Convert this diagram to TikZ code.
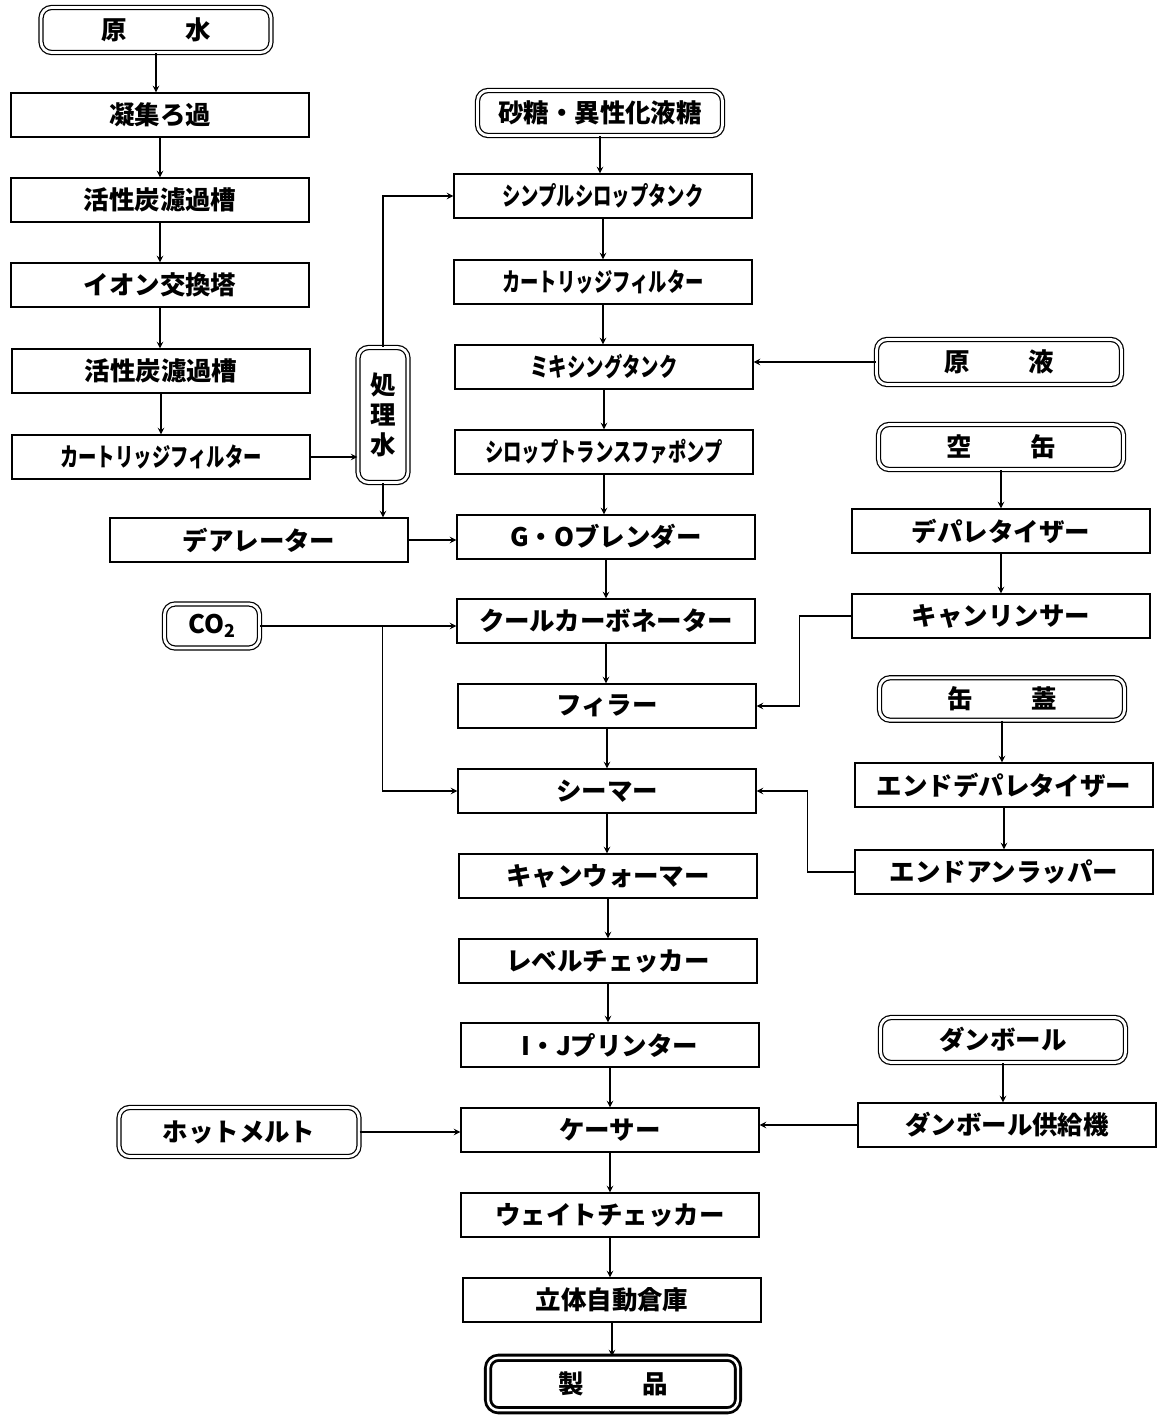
\documentclass[tikz,border=0pt]{standalone}
\usepackage{fontspec}
\usepackage{tikz}
\newfontfamily\jp{Noto Sans CJK JP}
\newfontfamily\jpc{Noto Sans CJK JP}[FakeStretch=0.72]

\tikzset{
  proc/.style={draw,line width=0.8pt,minimum width=5.96cm,minimum height=0.88cm,inner sep=0pt,
    font=\jp\bfseries\fontsize{14.5pt}{17pt}\selectfont},
  narrow/.style={font=\jpc\bfseries\fontsize{14.5pt}{17pt}\selectfont},
  src/.style={draw,double,double distance=1.6pt,line width=0.7pt,rounded corners=6pt,inner sep=0pt,
    minimum width=4.9cm,minimum height=0.9cm,font=\jp\bfseries\fontsize{14.5pt}{17pt}\selectfont},
  flow/.style={->,line width=0.65pt},
}

\begin{document}
\begin{tikzpicture}[x=0.02cm,y=-0.02cm,>=stealth]
\useasboundingbox (0,0) rectangle (1161,1415);

% Water treatment
\node[src,minimum width=4.6cm] (raw) at (156,30) {原\hspace{2.3em}水};
\node[proc] (coag) at (160,115) {凝集ろ過};
\node[proc] (carbon1) at (160,200) {活性炭濾過槽};
\node[proc] (ion) at (160,285) {イオン交換塔};
\node[proc] (carbon2) at (161,371) {活性炭濾過槽};
\node[proc,narrow] (cart1) at (161,457) {カートリッジフィルター};
\node[src,minimum width=1.0cm,minimum height=2.7cm,align=center] (treated) at (383,415) {処\\理\\水};
\node[proc] (deaer) at (259,540) {デアレーター};

% Syrup and filling line
\node[src] (sugar) at (600,113) {砂糖・異性化液糖};
\node[proc,narrow] (syrup) at (603,196) {シンプルシロップタンク};
\node[proc,narrow] (cart2) at (603,282) {カートリッジフィルター};
\node[proc,narrow] (mix) at (604,367) {ミキシングタンク};
\node[proc,narrow] (pump) at (604,452) {シロップトランスファポンプ};
\node[proc] (blend) at (606,537) {G・Oブレンダー};
\node[proc] (cool) at (606,621) {クールカーボネーター};
\node[proc] (filler) at (607,706) {フィラー};
\node[proc] (seamer) at (607,791) {シーマー};
\node[proc] (warmer) at (608,876) {キャンウォーマー};
\node[proc] (level) at (608,961) {レベルチェッカー};
\node[proc] (printer) at (610,1045) {I・Jプリンター};
\node[proc] (caser) at (610,1130) {ケーサー};
\node[proc] (weight) at (610,1215) {ウェイトチェッカー};
\node[proc] (store) at (612,1300) {立体自動倉庫};
\node[src,line width=1.6pt,double distance=1.4pt,minimum width=5.0cm,minimum height=1.05cm] (product) at (613,1384) {製\hspace{2.3em}品};

% Supplies on the right
\node[src] (stock) at (999,362) {原\hspace{2.3em}液};
\node[src] (can) at (1001,447) {空\hspace{2.3em}缶};
\node[proc] (depal) at (1001,531) {デパレタイザー};
\node[proc] (rinse) at (1001,616) {キャンリンサー};
\node[src,minimum height=0.85cm] (lid) at (1002,699) {缶\hspace{2.3em}蓋};
\node[proc] (enddepal) at (1004,785) {エンドデパレタイザー};
\node[proc] (endunwrap) at (1004,872) {エンドアンラッパー};
\node[src] (carton) at (1003,1040) {ダンボール};
\node[proc] (feeder) at (1007,1125) {ダンボール供給機};

% Supplies on the left
\node[src,minimum width=1.9cm,minimum height=0.88cm] (co2) at (212,626) {CO\textsubscript{2}};
\node[src,minimum width=4.8cm,minimum height=0.98cm] (hotmelt) at (239,1132) {ホットメルト};

% Water line
\foreach \a/\b in {raw/coag,coag/carbon1,carbon1/ion,ion/carbon2,carbon2/cart1,treated/deaer}
  \draw[flow] (\a.south) -- (\a.south |- \b.north);
\draw[flow] (cart1.east) -- (cart1.east -| treated.west);
\draw[flow] (treated.north) |- (syrup.west);
\draw[flow] (deaer.east) -- (deaer.east -| blend.west);

% Main line
\foreach \a/\b in {sugar/syrup,syrup/cart2,cart2/mix,mix/pump,pump/blend,blend/cool,cool/filler,
  filler/seamer,seamer/warmer,warmer/level,level/printer,printer/caser,caser/weight,weight/store,store/product}
  \draw[flow] (\a.south) -- (\a.south |- \b.north);

% Feeds from the right
\foreach \a/\b in {can/depal,depal/rinse,lid/enddepal,enddepal/endunwrap,carton/feeder}
  \draw[flow] (\a.south) -- (\a.south |- \b.north);
\draw[flow] (stock.west) -- (stock.west -| mix.east);
\draw[flow] (rinse.west) -- ++(-52,0) |- (filler.east);
\draw[flow] (endunwrap.west) -- ++(-47,0) |- (seamer.east);
\draw[flow] (feeder.west) -- (feeder.west -| caser.east);

% Feeds from the left
\draw[flow] (co2.east) -- (co2.east -| cool.west);
\path (co2.east) ++(122,0) coordinate (co2split);
\draw[flow] (co2split) |- (seamer.west);
\draw[flow] (hotmelt.east) -- (hotmelt.east -| caser.west);

\end{tikzpicture}
\end{document}
